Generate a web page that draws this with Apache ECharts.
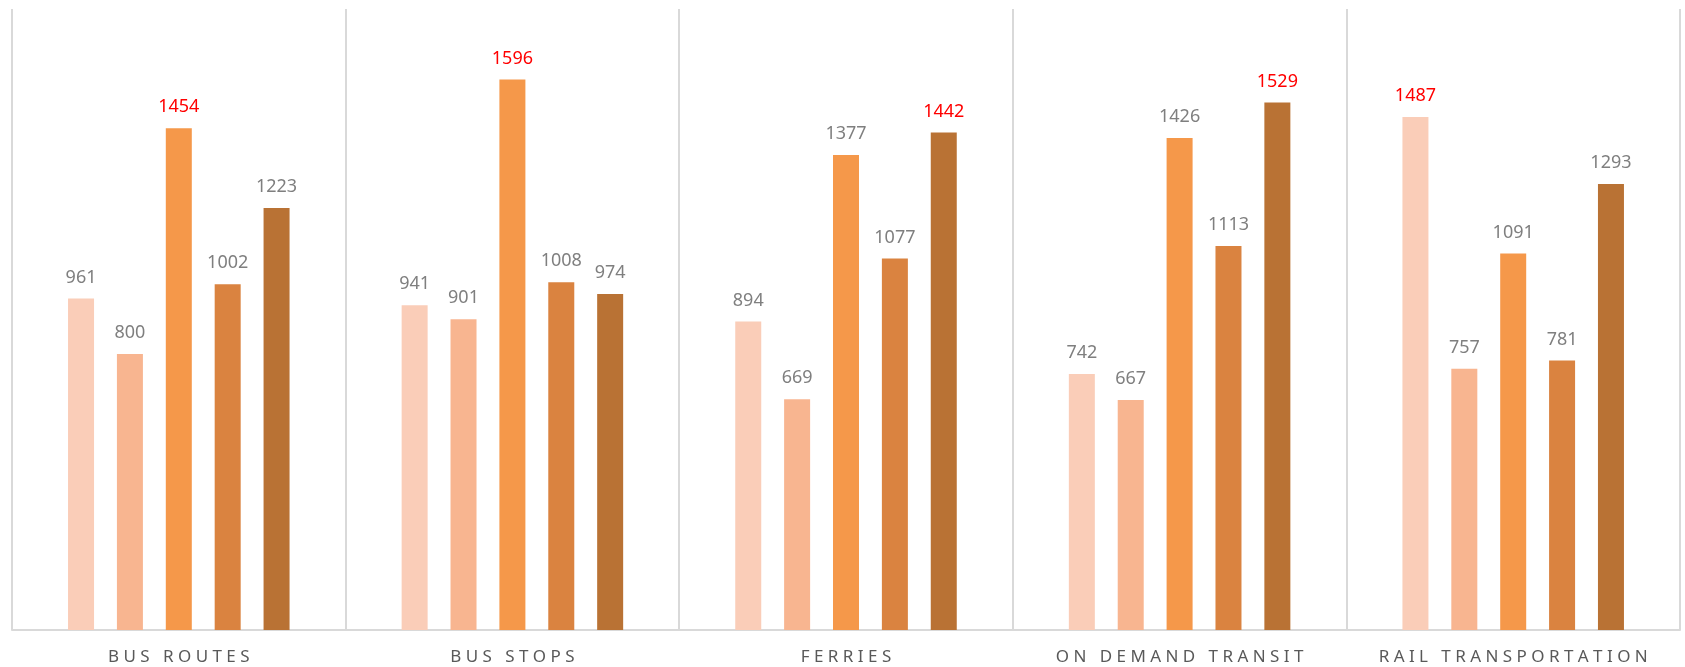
<!DOCTYPE html>
<html>
<head>
<meta charset="utf-8">
<script src="https://cdn.jsdelivr.net/npm/echarts@6/dist/echarts.min.js"></script>
<style>
    html, body { margin: 0; padding: 0; background: #fff; }
    #chart { width: 1685px; height: 667px; }
</style>
</head>
<body>
<div id="chart"></div>
<script>
    const categories = ['BUS ROUTES', 'BUS STOPS', 'FERRIES', 'ON DEMAND TRANSIT', 'RAIL TRANSPORTATION'];
    const series1 = [961, 941, 894, 742, 1487];
    const series2 = [800, 901, 669, 667, 757];
    const series3 = [1454, 1596, 1377, 1426, 1091];
    const series4 = [1002, 1008, 1077, 1113, 781];
    const series5 = [1223, 974, 1442, 1529, 1293];

    const allSeries = [series1, series2, series3, series4, series5];
    const colors = ['#FACDB8', '#F8B590', '#F5984A', '#DA8340', '#B97234'];

    // highest bar of each category gets a red label
    const maxes = categories.map((c, i) => Math.max(...allSeries.map(s => s[i])));

    const chart = echarts.init(document.getElementById('chart'), null, { renderer: 'canvas' });
    const option = {
        animation: false,
        grid: { left: 12, right: 5, top: 9, bottom: 37 },
        xAxis: {
            type: 'category',
            data: categories,
            axisTick: { show: false },
            axisLine: { show: true, lineStyle: { color: '#D9D9D9', width: 2 } },
            splitLine: { show: true, interval: 0, lineStyle: { color: '#D9D9D9', width: 2 } },
            axisLabel: {
                interval: 0,
                color: '#595959',
                fontFamily: 'Noto Sans',
                fontSize: 17,
                margin: 19,
                formatter: v => v.split('').join(' ')
            }
        },
        yAxis: {
            type: 'value',
            min: 0,
            max: 1800,
            show: false
        },
        series: allSeries.map((s, k) => ({
            type: 'bar',
            name: 'S' + (k + 1),
            barWidth: 26,
            barGap: '88%',
            itemStyle: { color: colors[k] },
            label: {
                show: true,
                position: 'top',
                distance: 12,
                fontFamily: 'Noto Sans',
                fontSize: 18,
                color: '#7F7F7F'
            },
            data: s.map((v, i) => v === maxes[i]
                ? { value: v, label: { color: '#FF0000' } }
                : v)
        }))
    };
    chart.setOption(option);
</script>
</body>
</html>
